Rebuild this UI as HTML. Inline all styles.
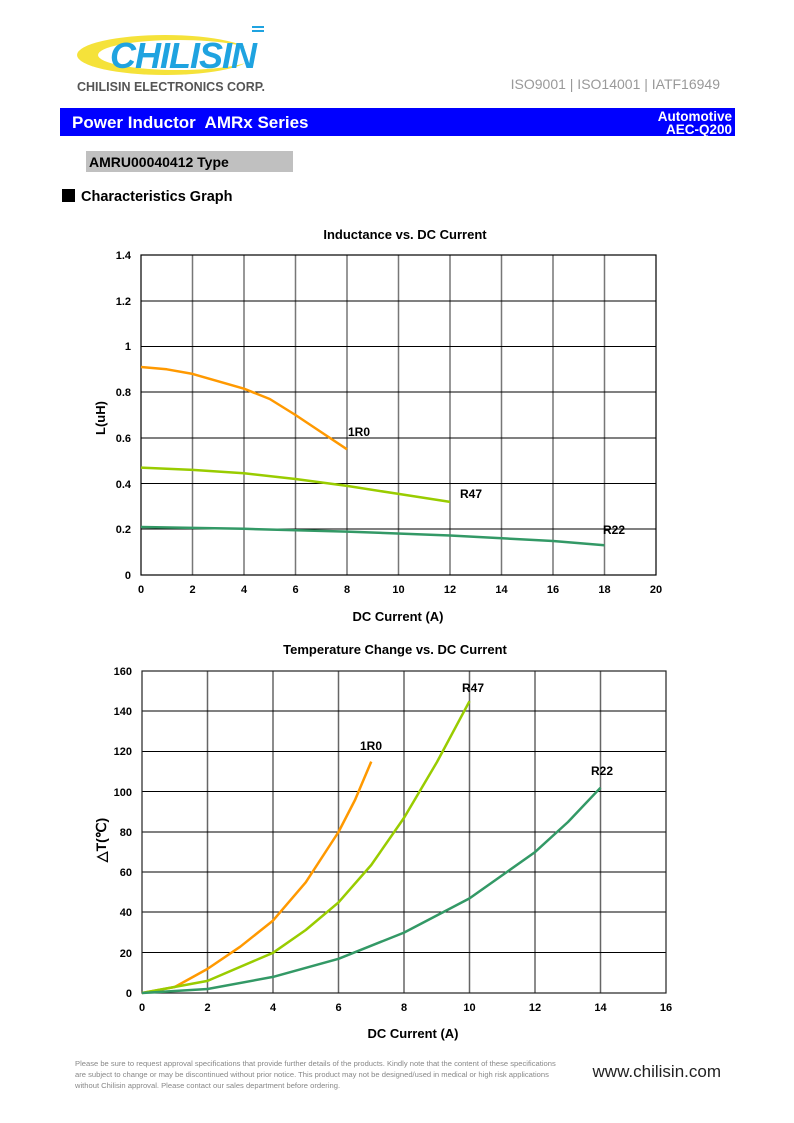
<!DOCTYPE html>
<html><head><meta charset="utf-8"><style>
body{margin:0;width:794px;height:1123px;background:#fff;position:relative;font-family:"Liberation Sans",sans-serif;overflow:hidden}
.a{position:absolute}
</style></head><body>
<svg class="a" style="left:0;top:0" width="794" height="1123" viewBox="0 0 794 1123" font-family="Liberation Sans, sans-serif">
<!-- logo -->
<ellipse cx="165" cy="55" rx="88" ry="20" fill="#f5e23a"/>
<ellipse cx="178" cy="55" rx="80" ry="15" fill="#fff"/>
<text x="110" y="68" font-size="36" font-weight="bold" font-style="italic" fill="#1fa3e0" letter-spacing="-1">CHILISIN</text>
<rect x="252" y="26" width="12" height="2" fill="#1fa3e0"/><rect x="252" y="30" width="12" height="2" fill="#1fa3e0"/>
<text x="77" y="91" font-size="12.5" font-weight="bold" fill="#555">CHILISIN ELECTRONICS CORP.</text>
<text x="720" y="89" font-size="14" fill="#999" text-anchor="end">ISO9001 | ISO14001 | IATF16949</text>
<rect x="60" y="108" width="675" height="28" fill="#0000ff"/>
<text x="72" y="128" font-size="17" font-weight="bold" fill="#fff" xml:space="preserve">Power Inductor&#160; AMRx Series</text>
<text x="732" y="121" font-size="13.5" font-weight="bold" fill="#fff" text-anchor="end">Automotive</text>
<text x="732" y="134" font-size="13.5" font-weight="bold" fill="#fff" text-anchor="end">AEC-Q200</text>
<rect x="86" y="151" width="207" height="21" fill="#c0c0c0"/>
<text x="89" y="167" font-size="14" font-weight="bold">AMRU00040412 Type</text>
<rect x="62" y="189" width="13" height="13" fill="#000"/>
<text x="81" y="201" font-size="14.5" font-weight="bold">Characteristics Graph</text>

<!-- chart 1 -->
<text x="405" y="239" font-size="13" font-weight="bold" text-anchor="middle">Inductance vs. DC Current</text>
<g stroke="#777" stroke-width="1.5">
<line x1="192.5" y1="255" x2="192.5" y2="575"/><line x1="244" y1="255" x2="244" y2="575"/><line x1="295.5" y1="255" x2="295.5" y2="575"/><line x1="347" y1="255" x2="347" y2="575"/><line x1="398.5" y1="255" x2="398.5" y2="575"/><line x1="450" y1="255" x2="450" y2="575"/><line x1="501.5" y1="255" x2="501.5" y2="575"/><line x1="553" y1="255" x2="553" y2="575"/><line x1="604.5" y1="255" x2="604.5" y2="575"/>
</g>
<g stroke="#000" stroke-width="1">
<line x1="141" y1="301" x2="656" y2="301"/><line x1="141" y1="346.5" x2="656" y2="346.5"/><line x1="141" y1="392" x2="656" y2="392"/><line x1="141" y1="438" x2="656" y2="438"/><line x1="141" y1="483.5" x2="656" y2="483.5"/><line x1="141" y1="529" x2="656" y2="529"/>
</g>
<rect x="141" y="255" width="515" height="320" fill="none" stroke="#000" stroke-width="1.2"/>
<g font-size="11" font-weight="bold" text-anchor="end">
<text x="131" y="259">1.4</text><text x="131" y="305">1.2</text><text x="131" y="350">1</text><text x="131" y="396">0.8</text><text x="131" y="442">0.6</text><text x="131" y="488">0.4</text><text x="131" y="533">0.2</text><text x="131" y="579">0</text>
</g>
<g font-size="11" font-weight="bold" text-anchor="middle">
<text x="141" y="593">0</text><text x="192.5" y="593">2</text><text x="244" y="593">4</text><text x="295.5" y="593">6</text><text x="347" y="593">8</text><text x="398.5" y="593">10</text><text x="450" y="593">12</text><text x="501.5" y="593">14</text><text x="553" y="593">16</text><text x="604.5" y="593">18</text><text x="656" y="593">20</text>
</g>
<text x="398" y="621" font-size="13" font-weight="bold" text-anchor="middle">DC Current (A)</text>
<text transform="translate(105,418) rotate(-90)" font-size="13" font-weight="bold" text-anchor="middle">L(uH)</text>
<g fill="none" stroke-width="2.5" stroke-linejoin="round">
<polyline stroke="#ff9900" points="141,367 166.75,369.3 192.5,373.9 244,388.7 269.75,399 295.5,415 321,432 347,449.3"/>
<polyline stroke="#99cc00" points="141,467.6 192.5,469.9 244,473.3 295.5,479 347,485.9 398.5,493.9 450,501.9"/>
<polyline stroke="#339966" points="141,527 244,528.8 347,531.6 450,535.5 553,541 604.5,545.3"/>
</g>
<g font-size="12" font-weight="bold">
<text x="348" y="436">1R0</text><text x="460" y="498">R47</text><text x="603" y="534">R22</text>
</g>

<!-- chart 2 -->
<text x="395" y="654" font-size="13" font-weight="bold" text-anchor="middle">Temperature Change vs. DC Current</text>
<g stroke="#666" stroke-width="1.5">
<line x1="207.5" y1="671" x2="207.5" y2="993"/><line x1="273" y1="671" x2="273" y2="993"/><line x1="338.5" y1="671" x2="338.5" y2="993"/><line x1="404" y1="671" x2="404" y2="993"/><line x1="469.5" y1="671" x2="469.5" y2="993"/><line x1="535" y1="671" x2="535" y2="993"/><line x1="600.5" y1="671" x2="600.5" y2="993"/>
</g>
<g stroke="#000" stroke-width="1">
<line x1="142" y1="711" x2="666" y2="711"/><line x1="142" y1="751.5" x2="666" y2="751.5"/><line x1="142" y1="791.5" x2="666" y2="791.5"/><line x1="142" y1="832" x2="666" y2="832"/><line x1="142" y1="872" x2="666" y2="872"/><line x1="142" y1="912" x2="666" y2="912"/><line x1="142" y1="952.5" x2="666" y2="952.5"/>
</g>
<rect x="142" y="671" width="524" height="322" fill="none" stroke="#222" stroke-width="1.2"/>
<g font-size="11" font-weight="bold" text-anchor="end">
<text x="132" y="675">160</text><text x="132" y="715">140</text><text x="132" y="755">120</text><text x="132" y="796">100</text><text x="132" y="836">80</text><text x="132" y="876">60</text><text x="132" y="916">40</text><text x="132" y="957">20</text><text x="132" y="997">0</text>
</g>
<g font-size="11" font-weight="bold" text-anchor="middle">
<text x="142" y="1011">0</text><text x="207.5" y="1011">2</text><text x="273" y="1011">4</text><text x="338.5" y="1011">6</text><text x="404" y="1011">8</text><text x="469.5" y="1011">10</text><text x="535" y="1011">12</text><text x="600.5" y="1011">14</text><text x="666" y="1011">16</text>
</g>
<text x="413" y="1038" font-size="13" font-weight="bold" text-anchor="middle">DC Current (A)</text>
<text transform="translate(106,840) rotate(-90)" font-size="14" font-weight="bold" text-anchor="middle">△T(℃)</text>
<g fill="none" stroke-width="2.5" stroke-linejoin="round">
<polyline stroke="#ff9900" points="142,993 174.75,987 207.5,968.9 240.25,946.7 273,920.6 305.75,882.3 338.5,832 355,800 371.25,761.6"/>
<polyline stroke="#99cc00" points="142,993 207.5,980.9 273,952.8 305.75,930 338.5,902.4 371.25,865 404,817.9 437,762 469.5,701.2"/>
<polyline stroke="#339966" points="142,993 207.5,989 273,976.9 338.5,958.8 404,932.6 469.5,898.4 535,852.1 568,822 600.5,787.7"/>
</g>
<g font-size="12" font-weight="bold">
<text x="360" y="750">1R0</text><text x="462" y="692">R47</text><text x="591" y="775">R22</text>
</g>

<!-- footer -->
<g font-size="7.6" fill="#888">
<text x="75" y="1066">Please be sure to request approval specifications that provide further details of the products. Kindly note that the content of these specifications</text>
<text x="75" y="1077">are subject to change or may be discontinued without prior notice. This product may not be designed/used in medical or high risk applications</text>
<text x="75" y="1088">without Chilisin approval. Please contact our sales department before ordering.</text>
</g>
<text x="721" y="1077" font-size="17" fill="#222" text-anchor="end">www.chilisin.com</text>
</svg>
</body></html>
